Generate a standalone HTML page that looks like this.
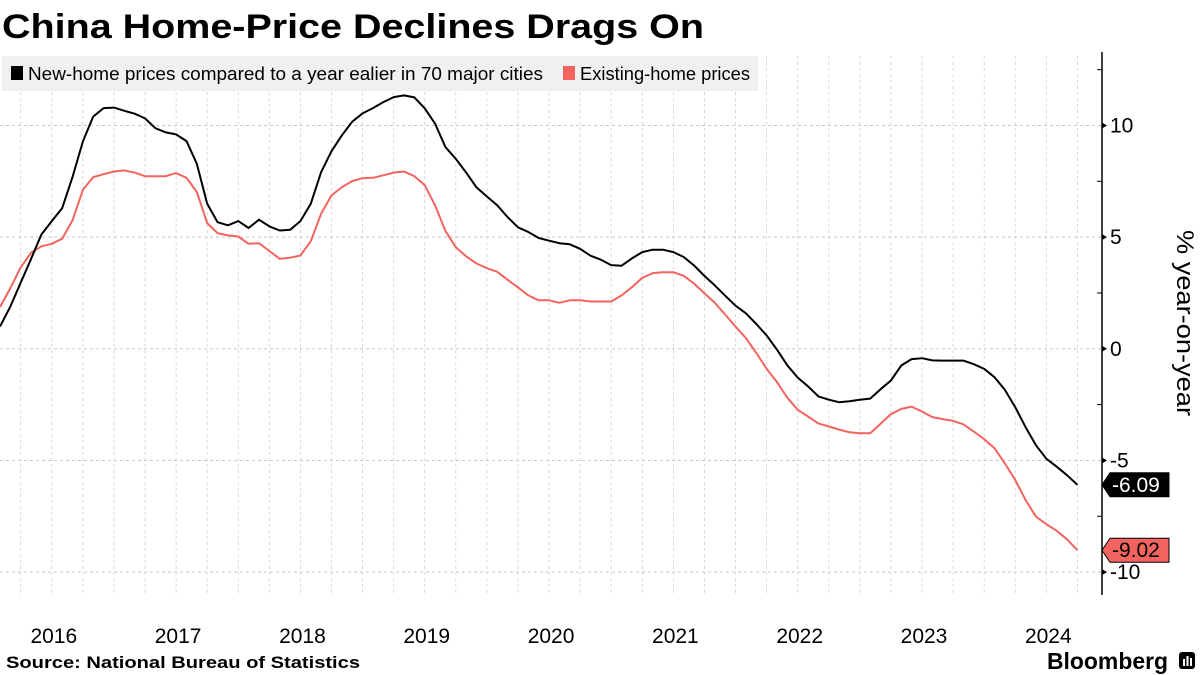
<!DOCTYPE html>
<html><head><meta charset="utf-8"><style>
html,body{margin:0;padding:0;background:#fff;}
svg{display:block;font-family:"Liberation Sans",sans-serif;}
</style></head><body>
<svg id="chart" width="1200" height="675" viewBox="0 0 1200 675" xmlns="http://www.w3.org/2000/svg">
<rect width="1200" height="675" fill="#fff"/>
<text x="2" y="38" font-size="34" font-weight="bold" textLength="702" lengthAdjust="spacingAndGlyphs">China Home-Price Declines Drags On</text>
<g id="grid"></g>
<rect x="2" y="56" width="756" height="35" fill="#f0f0f0"/>
<g>
<rect x="11" y="66" width="12" height="14" fill="#000"/>
<text x="28" y="80" font-size="18" textLength="515" lengthAdjust="spacingAndGlyphs">New-home prices compared to a year ealier in 70 major cities</text>
</g>
<g>
<rect x="563" y="66" width="12" height="14" fill="#f4645f"/>
<text x="580" y="80" font-size="18" textLength="170" lengthAdjust="spacingAndGlyphs">Existing-home prices</text>
</g>
<g id="series"></g>
<line x1="1102" y1="52" x2="1102" y2="595" stroke="#000" stroke-width="1.5"/>
<g id="yaxis"></g>
<g id="xaxis"></g>
<g id="tags"></g>
<text transform="translate(1177,230) rotate(90)" font-size="24" textLength="186" lengthAdjust="spacingAndGlyphs">% year-on-year</text>
<text x="6" y="668" font-size="17" font-weight="bold" textLength="354" lengthAdjust="spacingAndGlyphs">Source:  National Bureau of Statistics</text>
<text x="1047" y="669" font-size="23" font-weight="bold" textLength="121" lengthAdjust="spacingAndGlyphs">Bloomberg</text>
<g>
<rect x="1179" y="652" width="16" height="17" rx="3" fill="#000"/>
<rect x="1183" y="659" width="2" height="7" fill="#fff"/><rect x="1186.5" y="656" width="2" height="10" fill="#fff"/><rect x="1190" y="658" width="2" height="8" fill="#fff"/>
</g>
</svg>
<script>
const newHome = [1.0,1.9,2.96,4.03,5.12,5.72,6.3,7.69,9.29,10.4,10.78,10.8,10.66,10.53,10.32,9.88,9.69,9.6,9.3,8.29,6.5,5.67,5.53,5.72,5.41,5.78,5.48,
5.3,5.33,5.72,6.5,7.91,8.85,9.56,10.17,10.54,10.78,11.05,11.27,11.35,11.26,10.77,10.08,9.03,8.51,7.89,7.23,6.82,6.42,5.9,5.44,5.23,4.96,4.84,
4.73,4.68,4.48,4.17,3.99,3.75,3.72,4.05,4.33,4.44,4.44,4.33,4.11,3.73,3.26,2.84,2.38,1.93,1.59,1.11,0.6,-0.04,-0.74,-1.29,-1.68,-2.13,
-2.28,-2.39,-2.35,-2.28,-2.23,-1.81,-1.42,-0.75,-0.46,-0.42,-0.52,-0.53,-0.53,-0.53,-0.69,-0.9,-1.27,-1.84,-2.61,-3.51,-4.32,-4.92,-5.28,-5.66,-6.09];
const existingHome = [1.87,2.72,3.65,4.3,4.59,4.7,4.93,5.75,7.12,7.69,7.82,7.94,7.99,7.89,7.73,7.73,7.73,7.87,7.66,7.02,5.63,5.18,5.08,5.03,4.7,4.73,4.38,
4.03,4.08,4.18,4.82,6.05,6.87,7.24,7.51,7.64,7.66,7.77,7.89,7.94,7.73,7.33,6.42,5.27,4.55,4.14,3.82,3.61,3.45,3.09,2.75,2.39,2.17,2.17,
2.06,2.17,2.17,2.12,2.12,2.12,2.39,2.76,3.18,3.39,3.43,3.43,3.27,2.92,2.48,2.06,1.53,1.0,0.48,-0.19,-0.89,-1.49,-2.19,-2.73,-3.03,-3.34,
-3.48,-3.62,-3.74,-3.78,-3.78,-3.36,-2.93,-2.69,-2.59,-2.81,-3.06,-3.15,-3.23,-3.38,-3.71,-4.05,-4.45,-5.13,-5.87,-6.77,-7.52,-7.85,-8.15,-8.53,-9.02];
const yearLabels = ["2016","2017","2018","2019","2020","2021","2022","2023","2024"];
const yTicks = [10,5,0,-5,-10];
const firstMonthOffset = 1; // first point = Feb 2016

const NS = "http://www.w3.org/2000/svg";
const X0 = 0, X1 = 1077.4, nPts = newHome.length;
const mStep = (X1 - X0) / (nPts - 1);
function xMonth(m){ return X0 + (m - firstMonthOffset) * mStep; }
function xIdx(i){ return X0 + i * mStep; }
function y(v){ return 348.8 - v * 22.33; }
function mk(tag, attrs, parent){ const e=document.createElementNS(NS,tag); for(const k in attrs) e.setAttribute(k,attrs[k]); parent.appendChild(e); return e; }

const grid = document.getElementById('grid');
for(let m=0; xMonth(m) < 1100; m+=3){
  const xx = xMonth(m); if(xx<0) continue;
  const l = mk('line',{x1:xx,x2:xx,y1:56,y2:595,stroke:'#d0d0d0','stroke-width':0.8,'stroke-dasharray':'3,3'},grid);
  
  
}
const yaxis = document.getElementById('yaxis');
yTicks.forEach(t=>{
  const l = mk('line',{x1:0,x2:1102,y1:y(t),y2:y(t),stroke:'#c8c8c8','stroke-width':1,'stroke-dasharray':'3,3'},grid);
  
  
  const tk = mk('path',{d:`M1102 ${y(t)-3} L1107 ${y(t)} L1102 ${y(t)+3} Z`,fill:'#000'},yaxis);
  
  
  const tx = mk('text',{x:1110,y:y(t)+7,'font-size':21},yaxis);
  tx.textContent = String(t);
  
  
});
for(let t=12.5; t>=-10; t-=5){
  const mt = mk('line',{x1:1097,x2:1102,y1:y(t),y2:y(t),stroke:'#000','stroke-width':1},yaxis);
  
  
}
const xaxis = document.getElementById('xaxis');
yearLabels.forEach((lab,k)=>{
  const tx = mk('text',{x:xMonth(k*12+6)+2,y:643,'font-size':21,'text-anchor':'middle'},xaxis);
  tx.textContent = lab;
  
  
});
const series = document.getElementById('series');
function line(vals,color,name){
  const d = vals.map((v,i)=>(i?'L':'M')+xIdx(i).toFixed(1)+' '+y(v).toFixed(1)).join(' ');
  const p = mk('path',{d:d,fill:'none',stroke:color,'stroke-width':2,'stroke-linejoin':'round'},series);
  
  
}
line(existingHome,'#f4645f','existing-home-line');
line(newHome,'#000','new-home-line');
const tags = document.getElementById('tags');
function tag(v,fill,txtColor,name){
  const yy = y(v);
  const g = mk('g',{},tags);
  
  
  mk('path',{d:`M1102 ${yy} L1110 ${yy-12} L1169 ${yy-12} L1169 ${yy+12} L1110 ${yy+12} Z`,fill:fill,stroke:'#000','stroke-width':1},g);
  const t = mk('text',{x:1112,y:yy+7,'font-size':21,fill:txtColor},g);
  t.textContent = v.toFixed(2);
}
tag(newHome[nPts-1],'#000','#fff','new-home-last-value-tag');
tag(existingHome[existingHome.length-1],'#f4645f','#000','existing-home-last-value-tag');
</script>
</body></html>
